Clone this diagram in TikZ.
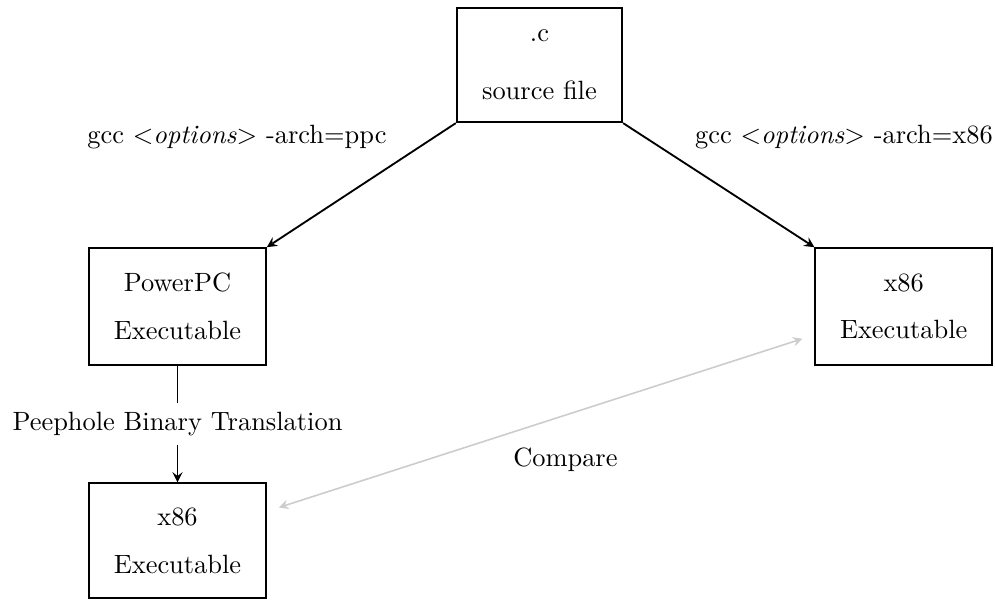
\documentclass[tikz,border=0pt]{standalone}
\usetikzlibrary{calc}
\tikzset{>=stealth}
\tikzset{box/.style={draw,line width=.75pt,align=center,
  minimum width=2.35cm,minimum height=1.55cm}}

\begin{document}
\begin{tikzpicture}
\useasboundingbox (0,0) rectangle (13.234,7.98);
\node[box,minimum width=2.2cm,minimum height=1.52cm] (src) at (7.175,7.115)
  {.c\\[10pt]source file};
\node[box] (ppc) at (2.361,3.904) {PowerPC\\[6pt]Executable};
\node[box] (xr) at (12.02,3.904) {x86\\[6pt]Executable};
\node[box,minimum height=1.52cm] (xb) at (2.361,0.79) {x86\\[6pt]Executable};
\draw[->,line width=.7pt] (src.south west) -- (ppc.north east);
\draw[->,line width=.7pt] (src.south east) -- (xr.north west);
\node (lppc) at (3.152,6.158) {gcc $<$\emph{options}$>$ -arch=ppc};
\node (lx) at (11.225,6.158) {gcc $<$\emph{options}$>$ -arch=x86};
\draw[->,line width=.7pt] (ppc) --
  node[fill=white] {Peephole Binary Translation} (xb);
\coordinate (ca) at ($(xb.east)+(.16,.44)$);
\coordinate (cb) at ($(xr.west)+(-.16,-.43)$);
\draw[<->,gray!40,semithick] (ca) --
  node[xshift=.33cm,yshift=-.49cm,text=black] {Compare} (cb);
\end{tikzpicture}
\end{document}
